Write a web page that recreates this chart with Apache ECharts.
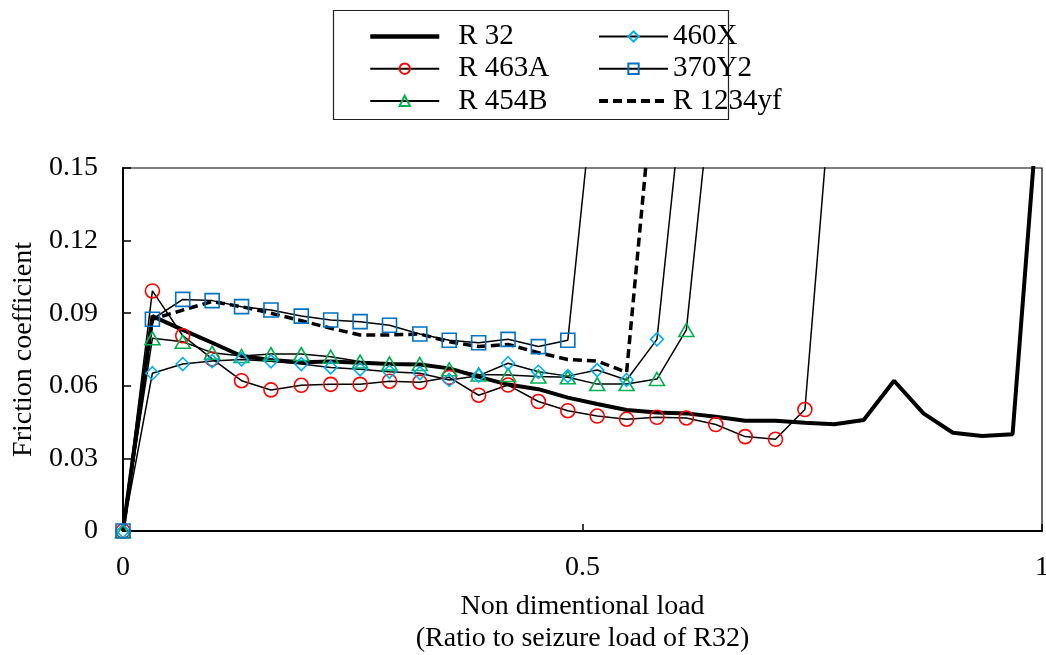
<!DOCTYPE html>
<html>
<head>
<meta charset="utf-8">
<script src="https://cdn.jsdelivr.net/npm/echarts@6/dist/echarts.min.js"></script>
<style>
  html, body { margin: 0; padding: 0; background: #fff; }
  #chart { width: 1046px; height: 655px; }
</style>
</head>
<body>
<div id="chart"></div>
<script>
  // load steps (ratio to seizure load of R32)
  const loads = [0, 0.032, 0.065, 0.097, 0.129, 0.161, 0.194, 0.226, 0.258, 0.290, 0.323, 0.355,
    0.387, 0.419, 0.452, 0.484, 0.516, 0.548, 0.581, 0.613, 0.645, 0.677, 0.710, 0.742, 0.774,
    0.806, 0.839, 0.871, 0.903, 0.935, 0.968, 1.0];

  // friction coefficient, last value of each list = seizure (off the top of the chart)
  const r32 = [0, 0.0888, 0.0831, 0.0778, 0.0723, 0.0707, 0.0697, 0.0700, 0.0695, 0.0690, 0.0688,
    0.0672, 0.0637, 0.0605, 0.0586, 0.0551, 0.0525, 0.0500, 0.0490, 0.0486, 0.0472, 0.0456,
    0.0456, 0.0447, 0.0441, 0.0459, 0.0621, 0.0486, 0.0406, 0.0393, 0.0400, 0.197];
  const r463a = [0, 0.0992, 0.0807, 0.0711, 0.0621, 0.0583, 0.0602, 0.0606, 0.0606, 0.0619, 0.0615,
    0.0635, 0.0561, 0.0603, 0.0535, 0.0497, 0.0475, 0.0462, 0.0470, 0.0467, 0.0440, 0.0390,
    0.0379, 0.0502, 0.198];
  const r454b = [0, 0.0796, 0.0782, 0.0737, 0.0723, 0.0731, 0.0731, 0.0720, 0.0700, 0.0692, 0.0690,
    0.0668, 0.0647, 0.0645, 0.0638, 0.0635, 0.0607, 0.0607, 0.0628, 0.0831, 0.200];
  const x460 = [0, 0.0652, 0.0690, 0.0702, 0.0709, 0.0701, 0.0690, 0.0676, 0.0668, 0.0658, 0.0652,
    0.0624, 0.0642, 0.0693, 0.0658, 0.0640, 0.0665, 0.0624, 0.0792, 0.195];
  const y370 = [0, 0.0875, 0.0957, 0.0952, 0.0927, 0.0913, 0.0888, 0.0872, 0.0865, 0.0850, 0.0814,
    0.0788, 0.0778, 0.0792, 0.0762, 0.0788, 0.196];
  const r1234yf = [0, 0.0875, 0.0913, 0.0948, 0.0927, 0.0900, 0.0869, 0.0838, 0.0810, 0.0810, 0.0814,
    0.0782, 0.0762, 0.0771, 0.0737, 0.0709, 0.0702, 0.0656, 0.200];

  const xTicks = [0, 0.5, 1];
  const yTicks = [0, 0.03, 0.06, 0.09, 0.12, 0.15];

  const font = "'Times New Roman', 'Liberation Serif', serif";

  function pairs(vals) {
    return vals.map((v, i) => [loads[i], v]);
  }

  function marked(name, vals, symbol, size, color) {
    return {
      name: name,
      type: 'line',
      data: pairs(vals),
      symbol: symbol,
      symbolSize: size,
      itemStyle: { color: 'rgba(255,255,255,0)', borderColor: color, borderWidth: 1.6 },
      lineStyle: { color: '#000', width: 1.5 },
      emphasis: { disabled: true },
      z: 3
    };
  }

  const chart = echarts.init(document.getElementById('chart'), null, { renderer: 'canvas' });

  const legendText = {
    fontFamily: font, fontSize: 29, color: '#000', lineHeight: 29
  };
  const noDot = { color: 'rgba(0,0,0,0)', borderWidth: 0 };

  chart.setOption({
    animation: false,
    backgroundColor: '#fff',
    textStyle: { fontFamily: font },
    grid: {
      left: 123, right: 4, top: 168, bottom: 124,
      containLabel: false, outerBoundsMode: 'none',
      show: true, borderColor: '#000', borderWidth: 1.2
    },
    legend: [{
      orient: 'vertical', left: 363, top: 17, itemWidth: 69, itemHeight: 13, itemGap: 3.2,
      data: [
        { name: 'R 32', itemStyle: noDot, lineStyle: { width: 4.5, color: '#000' } },
        { name: 'R 463A', lineStyle: { width: 2, color: '#000' } },
        { name: 'R 454B', lineStyle: { width: 2, color: '#000' } }
      ],
      formatter: n => '{p|' + n + '}',
      textStyle: Object.assign({ rich: { p: Object.assign({ padding: [0, 0, 0, 14] }, legendText) } }, legendText)
    }, {
      orient: 'vertical', left: 592, top: 17, itemWidth: 69, itemHeight: 13, itemGap: 3.2,
      data: [
        { name: '460X', lineStyle: { width: 2, color: '#000' } },
        { name: '370Y2', lineStyle: { width: 2, color: '#000' } },
        { name: 'R 1234yf', itemStyle: noDot, lineStyle: { width: 4, color: '#000', type: [9, 5] } }
      ],
      formatter: n => '{p|' + n + '}',
      textStyle: Object.assign({ rich: { p: Object.assign({ padding: [0, 0, 0, 0] }, legendText) } }, legendText)
    }],
    graphic: [{
      type: 'rect',
      shape: { x: 333.5, y: 10.5, width: 395, height: 109 },
      style: { fill: 'none', stroke: '#222', lineWidth: 1.2 },
      silent: true
    }],
    xAxis: {
      type: 'value', min: 0, max: 1, interval: 0.5,
      name: 'Non dimentional load\n(Ratio to seizure load of R32)',
      nameLocation: 'middle', nameGap: 60,
      nameTextStyle: { fontFamily: font, fontSize: 28, color: '#000', lineHeight: 32 },
      axisLine: { lineStyle: { color: '#000', width: 2 } },
      axisTick: { inside: true, length: 7, lineStyle: { color: '#000', width: 1.5 } },
      axisLabel: {
        fontFamily: font, fontSize: 28, color: '#000', margin: 23,
        formatter: v => xTicks.indexOf(v) >= 0 ? String(v) : ''
      },
      splitLine: { show: false }
    },
    yAxis: {
      type: 'value', min: 0, max: 0.15, interval: 0.03,
      name: 'Friction coefficient',
      nameLocation: 'middle', nameGap: 76,
      nameTextStyle: { fontFamily: font, fontSize: 28, color: '#000' },
      axisLine: { show: true, lineStyle: { color: '#000', width: 2 } },
      axisTick: { show: true, inside: true, length: 8, lineStyle: { color: '#000', width: 1.5 } },
      axisLabel: {
        fontFamily: font, fontSize: 28, color: '#000', margin: 25,
        formatter: v => {
          const t = yTicks.find(k => Math.abs(k - v) < 1e-9);
          return t === undefined ? '' : String(t);
        }
      },
      splitLine: { show: false }
    },
    series: [
      {
        name: 'R 32', type: 'line', data: pairs(r32), symbol: 'none',
        itemStyle: { color: '#000' },
        lineStyle: { color: '#000', width: 4 },
        emphasis: { disabled: true }, z: 2
      },
      {
        name: 'R 1234yf', type: 'line', data: pairs(r1234yf), symbol: 'none',
        itemStyle: { color: '#000' },
        lineStyle: { color: '#000', width: 3.5, type: [9, 5] },
        emphasis: { disabled: true }, z: 2
      },
      marked('R 463A', r463a, 'circle', 14, '#ff0000'),
      marked('R 454B', r454b, 'triangle', [15, 13], '#00b050'),
      marked('460X', x460, 'diamond', 13, '#00b0f0'),
      marked('370Y2', y370, 'rect', 14, '#0070c0')
    ]
  });
</script>
</body>
</html>
